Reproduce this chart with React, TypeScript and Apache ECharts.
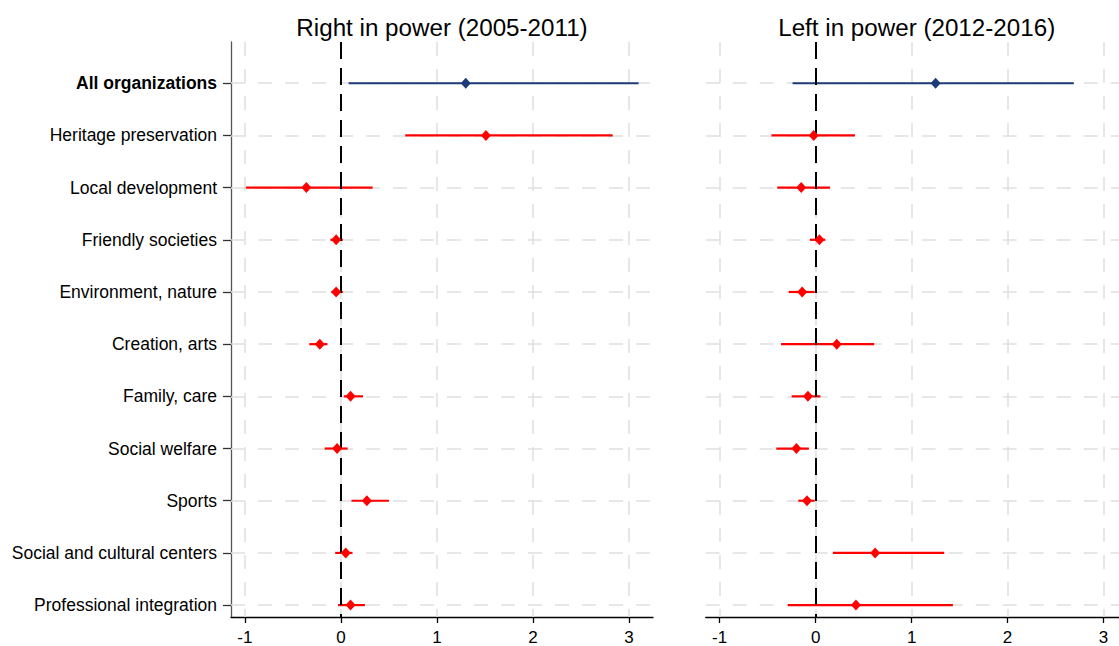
import React, { useEffect, useRef } from "react";
import * as echarts from "echarts";

const categories = [
  "All organizations",
  "Heritage preservation",
  "Local development",
  "Friendly societies",
  "Environment, nature",
  "Creation, arts",
  "Family, care",
  "Social welfare",
  "Sports",
  "Social and cultural centers",
  "Professional integration",
];

const panelTitles = ["Right in power (2005-2011)", "Left in power (2012-2016)"];

// Right in power (2005-2011)
const rightEst = [1.30, 1.51, -0.36, -0.05, -0.05, -0.22, 0.10, -0.04, 0.27, 0.05, 0.10];
const rightLo = [0.08, 0.67, -0.99, -0.11, -0.10, -0.33, 0.03, -0.17, 0.11, -0.06, -0.03];
const rightHi = [3.10, 2.83, 0.33, 0.02, 0.02, -0.14, 0.23, 0.07, 0.50, 0.12, 0.25];

// Left in power (2012-2016)
const leftEst = [1.25, -0.02, -0.15, 0.04, -0.14, 0.22, -0.08, -0.20, -0.09, 0.62, 0.42];
const leftLo = [-0.24, -0.46, -0.40, -0.06, -0.28, -0.36, -0.25, -0.41, -0.18, 0.18, -0.29];
const leftHi = [2.69, 0.41, 0.15, 0.10, -0.01, 0.61, 0.05, -0.07, -0.01, 1.34, 1.43];

const xTicks = [-1, 0, 1, 2, 3];
const rowPositions = categories.map((_, i) => i + 1);

const NAVY = "#1c3b77";
const RED = "#ff0000";
const FONT = "'Liberation Sans', Arial, Helvetica, sans-serif";

// canvas is a little wider than the window so the right panel is cut off like the original
const CANVAS_W = 1128;

export default function App() {
  const ref = useRef<HTMLDivElement>(null);

  useEffect(() => {
    if (!ref.current) return;
    const chart = echarts.init(ref.current, undefined, { renderer: "svg" });

    const grids = [
      { left: 231, right: CANVAS_W - 653, top: 42, bottom: 27 },
      { left: 705.7, right: CANVAS_W - 1127.6, top: 42, bottom: 27 },
    ];
    const panels = [
      { est: rightEst, lo: rightLo, hi: rightHi },
      { est: leftEst, lo: leftLo, hi: leftHi },
    ];
    const rowColor = (i: number) => (i === 0 ? NAVY : RED);

    const xAxes = grids.map((_, g) => ({
      type: "value",
      gridIndex: g,
      min: -1.145,
      max: 3.25,
      axisLine: { show: true, onZero: false, lineStyle: { color: "#000", width: 1.3 } },
      axisTick: { show: true, customValues: xTicks, length: 6, lineStyle: { color: "#000", width: 1.3 } },
      axisLabel: {
        customValues: xTicks,
        fontSize: 17,
        color: "#000",
        fontFamily: FONT,
        margin: 12,
      },
      splitLine: { show: false },
    }));

    const yAxes = grids.map((_, g) => ({
      type: "value",
      gridIndex: g,
      inverse: true,
      min: 0.21,
      max: 11.228,
      axisLine: { show: g === 0, onZero: false, lineStyle: { color: "#555", width: 1.3 } },
      axisTick: { show: g === 0, customValues: rowPositions, length: 8, lineStyle: { color: "#333", width: 1.3 } },
      axisLabel: {
        show: g === 0,
        customValues: rowPositions,
        fontSize: 17.5,
        color: "#000",
        fontFamily: FONT,
        margin: 14,
        formatter: (v: number) => {
          const name = categories[Math.round(v) - 1] || "";
          return Math.round(v) === 1 ? `{b|${name}}` : name;
        },
        rich: {
          b: { fontWeight: "bold", fontSize: 17.5, color: "#000", fontFamily: FONT },
        },
      },
      splitLine: { show: false },
    }));

    const series: any[] = [];
    grids.forEach((_, g) => {
      const p = panels[g];
      // gridlines
      series.push({
        type: "line",
        xAxisIndex: g,
        yAxisIndex: g,
        data: [],
        silent: true,
        z: 1,
        markLine: {
          silent: true,
          z: 1,
          symbol: "none",
          animation: false,
          label: { show: false },
          emphasis: { disabled: true },
          lineStyle: { color: "#e0e0e0", width: 1.5, type: [14, 13] },
          data: [
            ...xTicks.map((v) => ({ xAxis: v })),
            ...rowPositions.map((v) => ({ yAxis: v })),
          ],
        },
      });
      // confidence intervals
      series.push({
        type: "custom",
        xAxisIndex: g,
        yAxisIndex: g,
        z: 3,
        silent: true,
        encode: { x: [0, 1], y: 2 },
        data: categories.map((_, i) => [p.lo[i], p.hi[i], rowPositions[i]]),
        renderItem: (params: any, api: any) => {
          const a = api.coord([api.value(0), api.value(2)]);
          const b = api.coord([api.value(1), api.value(2)]);
          return {
            type: "line",
            shape: { x1: a[0], y1: a[1], x2: b[0], y2: b[1] },
            style: { stroke: rowColor(params.dataIndex), lineWidth: 2.2, opacity: 1 },
          };
        },
      });
      // zero line
      series.push({
        type: "line",
        xAxisIndex: g,
        yAxisIndex: g,
        data: [],
        silent: true,
        z: 5,
        markLine: {
          silent: true,
          z: 5,
          symbol: "none",
          animation: false,
          label: { show: false },
          emphasis: { disabled: true },
          lineStyle: { color: "#000", width: 2, type: [17, 9] },
          data: [{ xAxis: 0 }],
        },
      });
      // point estimates
      series.push({
        type: "scatter",
        xAxisIndex: g,
        yAxisIndex: g,
        z: 6,
        silent: true,
        symbol: "diamond",
        symbolSize: [10, 11],
        itemStyle: { opacity: 1 },
        data: categories.map((_, i) => ({
          value: [p.est[i], rowPositions[i]],
          itemStyle: { color: rowColor(i), opacity: 1 },
        })),
      });
    });

    chart.setOption({
      animation: false,
      textStyle: { fontFamily: FONT },
      title: panelTitles.map((t, g) => ({
        text: t,
        left: g === 0 ? 442 : 916.7,
        top: 15,
        textAlign: "center",
        padding: 0,
        textStyle: { fontSize: 24.2, fontWeight: "normal", color: "#000", fontFamily: FONT, lineHeight: 24 },
      })),
      grid: grids,
      xAxis: xAxes,
      yAxis: yAxes,
      series,
    });

    return () => chart.dispose();
  }, []);

  return (
    <div
      ref={ref}
      style={{ position: "fixed", left: 0, top: 0, width: CANVAS_W, height: 646, background: "#fff" }}
    />
  );
}
